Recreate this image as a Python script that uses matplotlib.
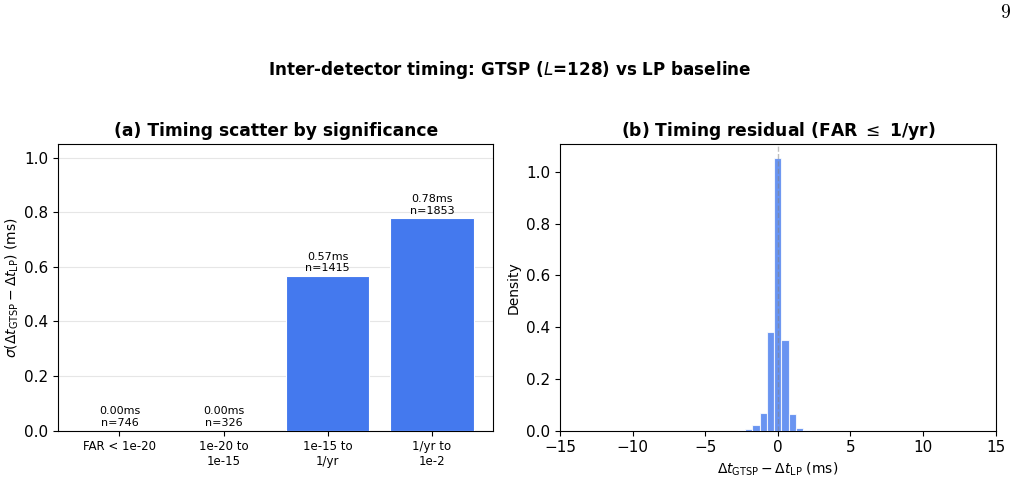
import numpy as np
import matplotlib
matplotlib.use("Agg")
import matplotlib.pyplot as plt

# panel (a): timing scatter per significance bin
categories = ["FAR < 1e-20", "1e-20 to\n1e-15", "1e-15 to\n1/yr", "1/yr to\n1e-2"]
sigma_ms = [0.0, 0.0, 0.566, 0.778]
counts = [746, 326, 1415, 1853]

# panel (b): residual histogram (density), 0.5 ms bins
bin_centers = [-2.5, -2.0, -1.5, -1.0, -0.5, 0.0, 0.5, 1.0, 1.5, 2.0]
density = [0.001, 0.008, 0.023, 0.068, 0.382, 1.055, 0.352, 0.066, 0.012, 0.002]
bin_width = 0.5

blue = "#4479ee"

fig = plt.figure(figsize=(10.19, 4.79), dpi=100)
ax1 = fig.add_axes([58 / 1019, 1 - 430.7 / 479, 435.3 / 1019, 286.7 / 479])
ax2 = fig.add_axes([560 / 1019, 1 - 430.7 / 479, 435.7 / 1019, 286.7 / 479])

x = np.arange(len(categories))
ax1.bar(x, sigma_ms, width=0.8, color=blue, edgecolor="white", linewidth=0.8, zorder=3)
for xi, s, n in zip(x, sigma_ms, counts):
    ax1.text(xi, s + 0.01, f"{s:.2f}ms\nn={n}", ha="center", va="bottom", fontsize=8)
ax1.set_xticks(x)
ax1.set_xticklabels(categories, fontsize=8.5)
ax1.set_ylim(0, 1.05)
ax1.set_xlim(-0.59, 3.59)
ax1.set_ylabel(r"$\sigma(\Delta t_{\rm GTSP} - \Delta t_{\rm LP})$ (ms)", fontsize=10, labelpad=2)
ax1.set_title("(a) Timing scatter by significance", fontsize=12.3, fontweight="bold")
ax1.yaxis.grid(True, color="#e6e6e6", linewidth=0.8, zorder=0)
ax1.tick_params(axis="y", labelsize=11)

ax2.bar(bin_centers, density, width=bin_width, color=blue, alpha=0.8,
        edgecolor="white", linewidth=0.8, zorder=3)
ax2.axvline(0, color="grey", linestyle="--", linewidth=1, alpha=0.5, zorder=4)
ax2.set_xlim(-15, 15)
ax2.set_ylim(0, 1.108)
ax2.set_xlabel(r"$\Delta t_{\rm GTSP} - \Delta t_{\rm LP}$ (ms)", fontsize=10)
ax2.set_ylabel("Density", fontsize=10)
ax2.set_title(r"(b) Timing residual (FAR $\leq$ 1/yr)", fontsize=12.3, fontweight="bold")
ax2.tick_params(labelsize=11)

fig.text(0.5, 1 - 70 / 479, r"Inter-detector timing: GTSP ($L$=128) vs LP baseline",
         ha="center", va="center", fontsize=12.1, fontweight="bold")
fig.text(1005 / 1019, 1 - 13 / 479, r"$9$", ha="center", va="center", fontsize=14,
         math_fontfamily="cm")

fig.savefig("out.png", dpi=100)
